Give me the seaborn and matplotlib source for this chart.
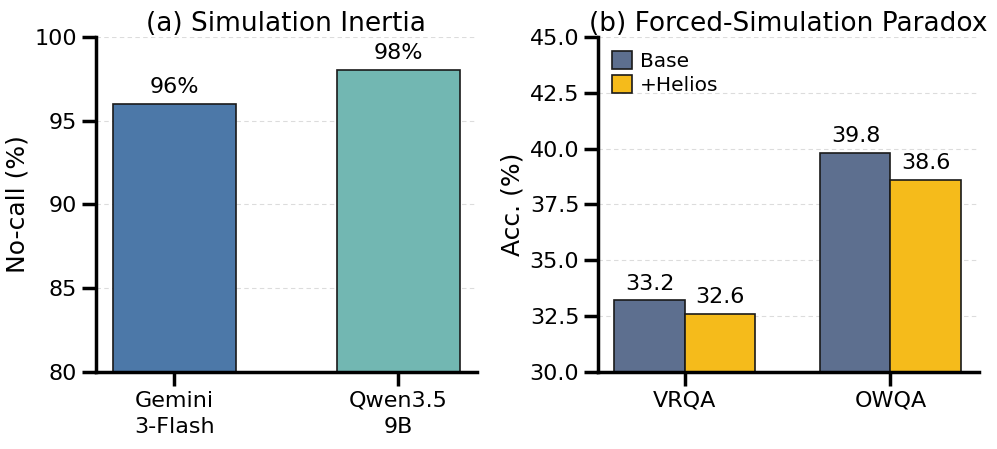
import matplotlib
matplotlib.use("Agg")
import matplotlib.pyplot as plt
import seaborn as sns
import pandas as pd

# Data
models = ["Gemini\n3-Flash", "Qwen3.5\n9B"]
nocall = [96, 98]
datasets = ["VRQA", "OWQA"]
base_acc = [33.2, 39.8]
helios_acc = [32.6, 38.6]
methods = ["Base", "+Helios"]

sns.set_theme(style="ticks", context="talk")
plt.rcParams['font.family'] = ['DejaVu Sans']
plt.rcParams['text.color'] = 'black'
plt.rcParams['axes.labelcolor'] = 'black'
plt.rcParams['xtick.color'] = 'black'
plt.rcParams['ytick.color'] = 'black'
plt.rcParams['axes.edgecolor'] = 'black'

fig = plt.figure(figsize=(9.97, 4.49), dpi=100)
ax1 = fig.add_axes([0.0963, 0.1715, 0.3817, 0.7465])
ax2 = fig.add_axes([0.5998, 0.1715, 0.3822, 0.7465])

# Left panel
df1 = pd.DataFrame({"model": models, "val": nocall})
sns.barplot(data=df1, x="model", y="val", hue="model",
            palette=["#4c78a8", "#72b7b2"], width=0.55, saturation=1,
            edgecolor="#1a1a1a", linewidth=1.2, legend=False, ax=ax1)
ax1.set_ylim(80, 100)
ax1.set_xlim(-0.35, 1.35)
ax1.set_yticks([80, 85, 90, 95, 100])
ax1.set_xlabel("")
ax1.set_ylabel("No-call (%)", fontsize=18)
ax1.set_title("(a) Simulation Inertia", fontsize=19, pad=4)
for c in ax1.containers:
    ax1.bar_label(c, fmt="%.0f%%", padding=5, fontsize=16)

# Right panel
df2 = pd.DataFrame({
    "dataset": datasets * 2,
    "method": [methods[0]] * 2 + [methods[1]] * 2,
    "val": base_acc + helios_acc,
})
sns.barplot(data=df2, x="dataset", y="val", hue="method",
            palette=["#5d6f8f", "#f5bb1b"], width=0.68, saturation=1,
            edgecolor="#1a1a1a", linewidth=1.2, ax=ax2)
ax2.set_ylim(30, 45)
ax2.set_xlim(-0.42, 1.43)
yt = [30.0, 32.5, 35.0, 37.5, 40.0, 42.5, 45.0]
ax2.set_yticks(yt)
ax2.set_yticklabels([f"{v:.1f}" for v in yt])
ax2.set_xlabel("")
ax2.set_ylabel("Acc. (%)", fontsize=18)
ax2.set_title("(b) Forced-Simulation Paradox", fontsize=19, pad=4)
for c in ax2.containers:
    ax2.bar_label(c, fmt="%.1f", padding=5, fontsize=16)
leg = ax2.legend(loc="upper left", frameon=False, fontsize=14.5,
                 handlelength=1.0, handleheight=1.0, handletextpad=0.4,
                 borderaxespad=0.3, labelspacing=0.2)

for ax in (ax1, ax2):
    sns.despine(ax=ax)
    ax.yaxis.grid(True, linestyle=(0, (4, 3)), color="#dcdcdc", linewidth=0.8)
    ax.set_axisbelow(True)
    ax.tick_params(labelsize=16, width=2.5, length=10)
    for s in ("left", "bottom"):
        ax.spines[s].set_linewidth(2.5)

for lbl in ax1.get_xticklabels():
    lbl.set_linespacing(1.4)

fig.savefig("out.png", dpi=100)
